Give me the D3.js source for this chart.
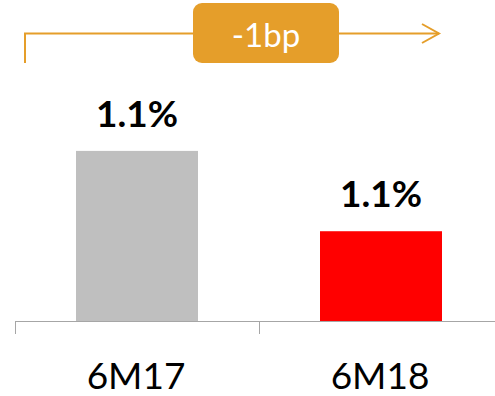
<!DOCTYPE html>
<html>
<head>
<meta charset="utf-8">
<script src="https://cdn.jsdelivr.net/npm/d3@7"></script>
<style>
  body { margin: 0; background: #fff; }
  text { font-family: Lato, "Open Sans", sans-serif; }
</style>
</head>
<body>
<script>
var width = 495,
    height = 396;

// data
var categories = ["6M17", "6M18"];
var values = [1.14, 1.055];
var labels = ["1.1%", "1.1%"];
var colors = ["#BFBFBF", "#FF0000"];
var changeLabel = "-1bp";

var svg = d3.select("body").append("svg")
    .attr("width", width)
    .attr("height", height);

var x = d3.scaleBand()
    .domain(categories)
    .range([15, 503])
    .paddingInner(0.5)
    .paddingOuter(0.25);

// axis does not start at zero in the original
var y = d3.scaleLinear()
    .domain([0.96, 1.16])
    .range([321, 132]);

svg.selectAll(".bar")
    .data(values)
    .enter().append("rect")
    .attr("class", "bar")
    .attr("x", function(d, i) { return x(categories[i]); })
    .attr("width", x.bandwidth())
    .attr("y", function(d) { return y(d); })
    .attr("height", function(d) { return y(0.96) - y(d); })
    .attr("fill", function(d, i) { return colors[i]; });

svg.selectAll(".val")
    .data(values)
    .enter().append("text")
    .attr("class", "val")
    .attr("x", function(d, i) { return x(categories[i]) + x.bandwidth() / 2; })
    .attr("y", function(d) { return y(d) - 24; })
    .attr("text-anchor", "middle")
    .attr("font-size", 37)
    .attr("font-weight", "bold")
    .attr("fill", "#000")
    .text(function(d, i) { return labels[i]; });

// x axis: baseline plus ticks on the band edges
var ax = svg.append("g");
ax.append("line")
    .attr("x1", 15).attr("x2", width)
    .attr("y1", 321.5).attr("y2", 321.5)
    .attr("stroke", "#A6A6A6").attr("stroke-width", 1);
var edges = [x.range()[0], x(categories[1]) - x.step() * x.paddingInner() / 2];
ax.selectAll(".tick")
    .data(edges)
    .enter().append("line")
    .attr("x1", function(d) { return Math.round(d) + 0.5; })
    .attr("x2", function(d) { return Math.round(d) + 0.5; })
    .attr("y1", 321).attr("y2", 334)
    .attr("stroke", "#A6A6A6").attr("stroke-width", 1);

svg.selectAll(".cat")
    .data(categories)
    .enter().append("text")
    .attr("class", "cat")
    .attr("x", function(d) { return x(d) + x.bandwidth() / 2 - 1; })
    .attr("y", 389)
    .attr("text-anchor", "middle")
    .attr("font-size", 37)
    .attr("fill", "#000")
    .text(function(d) { return d; });

// bracket arrow with change box
var orange = "#E59E2A";
svg.append("path")
    .attr("d", "M25,63V33.5H439")
    .attr("fill", "none")
    .attr("stroke", orange)
    .attr("stroke-width", 2);
svg.append("path")
    .attr("d", "M422,24L439,33.5L422,43")
    .attr("fill", "none")
    .attr("stroke", orange)
    .attr("stroke-width", 2);

svg.append("rect")
    .attr("x", 193).attr("y", 3)
    .attr("width", 146).attr("height", 60)
    .attr("rx", 9)
    .attr("fill", orange);
svg.append("text")
    .attr("x", 266)
    .attr("y", 47)
    .attr("text-anchor", "middle")
    .attr("font-size", 33)
    .attr("fill", "#fff")
    .text(changeLabel);
</script>
</body>
</html>
